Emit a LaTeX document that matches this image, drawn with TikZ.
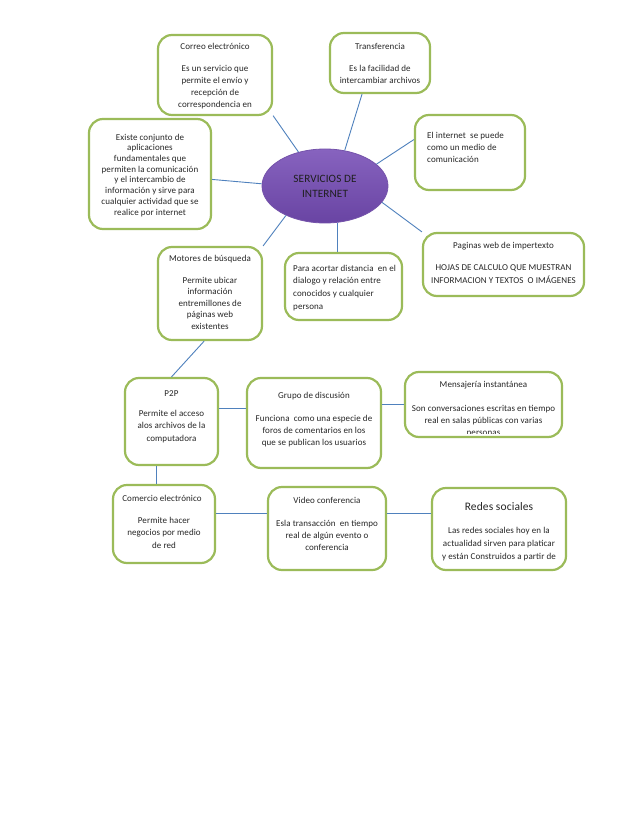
\documentclass[tikz,border=0pt]{standalone}
\usepackage{fontspec}
\setmainfont{Carlito}[LetterSpace=1]
\usetikzlibrary{shapes.geometric,calc}
\definecolor{boxgreen}{HTML}{9BBB59}
\definecolor{linkblue}{HTML}{4F81BD}
\definecolor{txtgray}{HTML}{262626}
\definecolor{purpA}{HTML}{8763BF}
\definecolor{purpB}{HTML}{6944A3}
\definecolor{purpD}{HTML}{7452AA}
\newcommand{\fl}{\rule{0pt}{7.5pt}}
\begin{document}
\begin{tikzpicture}[x=1pt,y=-1pt,
  box/.style={draw=boxgreen, line width=2.2pt, rounded corners=14pt, inner sep=0pt},
  ttl/.style={inner sep=0pt, anchor=base, text=txtgray, font=\fontsize{9}{12}\selectfont},
  body/.style={inner sep=0pt, anchor=north, align=center, text=txtgray},
  lbody/.style={inner sep=0pt, anchor=north west, align=left, text=txtgray},
  link/.style={draw=linkblue, line width=0.9pt},
  hub/.style={ellipse, draw=purpD, line width=0.8pt, top color=purpA, bottom color=purpB,
    minimum width=126pt, minimum height=74pt, align=center, text=black!88,
    font=\fontsize{11.2}{15}\selectfont}
]
\fill[white] (0,0) rectangle (638,826);
\useasboundingbox (0,0) rectangle (638,826);

% boxes
\node[box, minimum width=114pt, minimum height=80pt] (correo) at (215,75) {};
\node[box, minimum width=100pt, minimum height=60pt] (trans) at (380,63) {};
\node[box, minimum width=122pt, minimum height=110pt] (existe) at (150,174) {};
\node[box, minimum width=110pt, minimum height=75pt] (internet) at (470,152.5) {};
\node[box, minimum width=161pt, minimum height=63pt] (paginas) at (503.5,264.5) {};
\node[box, minimum width=104pt, minimum height=93pt] (motores) at (210,293.5) {};
\node[box, minimum width=117pt, minimum height=67pt] (para) at (343.5,286.5) {};
\node[box, minimum width=93pt, minimum height=87pt] (p2p) at (171.5,421.5) {};
\node[box, minimum width=134pt, minimum height=90pt] (grupo) at (314,423) {};
\node[box, minimum width=157pt, minimum height=65pt] (mensa) at (483.5,404.5) {};
\node[box, minimum width=102pt, minimum height=78pt] (comercio) at (164,524) {};
\node[box, minimum width=118pt, minimum height=83pt] (video) at (327,528.5) {};
\node[box, minimum width=134pt, minimum height=82pt] (redes) at (499,529) {};

\node[hub] (srv) at (325,186) {SERVICIOS DE\\INTERNET};

% texts
\node[ttl] (correoT) at (215,50) {Correo electrónico};
\node[body, font=\fontsize{9}{12}\selectfont] (correoB) at (215,63.5)
  {\fl Es un servicio que\\permite el envío y\\recepción de\\correspondencia en};

\node[ttl] (transT) at (380,50) {Transferencia};
\node[body, font=\fontsize{9}{12}\selectfont] (transB) at (380,63.5)
  {\fl Es la facilidad de\\intercambiar archivos};

\node[body, font=\fontsize{9}{10.7}\selectfont] (existeB) at (150,132.5)
  {\fl Existe conjunto de\\aplicaciones\\fundamentales que\\permiten la comunicación\\y el intercambio de\\información y sirve para\\cualquier actividad que se\\realice por internet};

\node[lbody, font=\fontsize{9}{12}\selectfont] (internetB) at (427,130.5)
  {\fl El internet~ se puede\\como un medio de\\comunicación};

\node[ttl] (paginasT) at (503.5,248) {Paginas web de impertexto};
\node[body, font=\fontsize{9}{13}\selectfont] (paginasB) at (503.5,262.5)
  {\fl HOJAS DE CALCULO QUE MUESTRAN\\INFORMACION Y TEXTOS~ O IMÁGENES};

\node[ttl] (motoresT) at (210,261) {Motores de búsqueda};
\node[body, font=\fontsize{9}{11.5}\selectfont] (motoresB) at (210,275.5)
  {\fl Permite ubicar\\información\\entremillones de\\páginas web\\existentes};

\node[lbody, font=\fontsize{9}{12.7}\selectfont] (paraB) at (293,263.5)
  {\fl Para acortar distancia~ en el\\dialogo y relación entre\\conocidos y cualquier\\persona};

\node[ttl] (p2pT) at (171.5,396) {P2P};
\node[body, font=\fontsize{9}{12.5}\selectfont] (p2pB) at (171.5,408.5)
  {\fl Permite el acceso\\alos archivos de la\\computadora};

\node[ttl] (grupoT) at (314,398) {Grupo de discusión};
\node[body, font=\fontsize{9}{12}\selectfont] (grupoB) at (314,413.5)
  {\fl Funciona~ como una especie de\\foros de comentarios en los\\que se publican los usuarios};

\node[ttl] (mensaT) at (483.5,387) {Mensajería instantánea};
\begin{scope}
  \clip[rounded corners=12pt] ($(mensa.north west)+(1.2,1.2)$) rectangle ($(mensa.south east)+(-1.2,-4.5)$);
  \node[body, font=\fontsize{9}{12}\selectfont] (mensaB) at (483.5,403.5)
    {\fl Son conversaciones escritas en tiempo\\real en salas públicas con varias\\personas};
\end{scope}

\node[ttl] (comercioT) at (162,501) {Comercio electrónico};
\node[body, font=\fontsize{9}{12.5}\selectfont] (comercioB) at (164,515.5)
  {\fl Permite hacer\\negocios por medio\\de red};

\node[ttl] (videoT) at (327,503) {Video conferencia};
\node[body, font=\fontsize{9}{12}\selectfont] (videoB) at (327,518.5)
  {\fl Esla transacción~ en tiempo\\real de algún evento o\\conferencia};

\node[ttl, font=\fontsize{11.5}{13}\selectfont] (redesT) at (499,510) {Redes sociales};
\node[body, font=\fontsize{9}{13}\selectfont] (redesB) at (499,525.5)
  {\fl Las redes sociales hoy en la\\actualidad sirven para platicar\\y están Construidos a partir de};

% connectors
\draw[link] (correo.-35) -- (srv.128);
\draw[link] (trans.240) -- (srv.61);
\draw[link] (existe.-5) -- (srv.178);
\draw[link] (internet.167) -- (srv.23);
\draw[link] (paginas.north west) -- (srv.-16);
\draw[link] (motores.north east) -- (srv.217);
\draw[link] (para.100) -- (para.100 |- srv.south);
\draw[link] (motores.263) -- (p2p.north);
\draw[link] (p2p.15) -- (p2p.15 -| grupo.west);
\draw[link] (mensa.west) -- (mensa.west -| grupo.east);
\draw[link] (comercio.100) -- (comercio.100 |- p2p.south);
\draw[link] (comercio.11) -- (comercio.11 -| video.west);
\draw[link] (redes.167) -- (redes.167 -| video.east);
\end{tikzpicture}
\end{document}
